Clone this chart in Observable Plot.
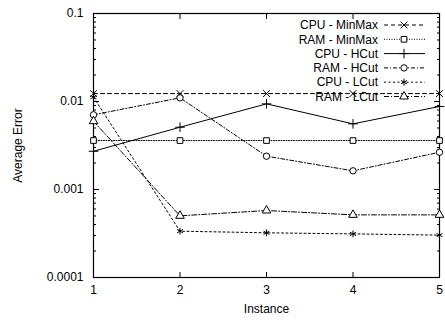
<!DOCTYPE html>
<html><head><meta charset="utf-8">
<script src="https://cdn.jsdelivr.net/npm/d3@7"></script>
<script src="https://cdn.jsdelivr.net/npm/@observablehq/plot@0.6"></script>
<style>body{margin:0;background:#fff} #chart svg{font-family:"Liberation Sans",Arial,sans-serif}</style>
</head><body><div id="chart"></div>
<script>
const instances = [1, 2, 3, 4, 5];
const seriesNames = ["CPU - MinMax", "RAM - MinMax", "CPU - HCut", "RAM - HCut", "CPU - LCut", "RAM - LCut"];
const cpuMinMax = [0.0123, 0.0123, 0.0123, 0.0123, 0.0123];
const ramMinMax = [0.0036, 0.0036, 0.0036, 0.0036, 0.0036];
const cpuHCut = [0.00272, 0.0051, 0.0094, 0.00557, 0.00878];
const ramHCut = [0.00706, 0.011, 0.00239, 0.00163, 0.00265];
const cpuLCut = [0.0112, 0.000336, 0.000322, 0.000313, 0.000303];
const ramLCut = [0.00597, 0.000502, 0.000577, 0.000515, 0.000515];
const yTicks = [0.1, 0.01, 0.001, 0.0001];
const xTicks = [1, 2, 3, 4, 5];

const seriesValues = [cpuMinMax, ramMinMax, cpuHCut, ramHCut, cpuLCut, ramLCut];
const styles = [
  {dash: "4,3", symbol: "times"},
  {dash: "1,1.5", symbol: "square"},
  {dash: null, symbol: "plus"},
  {dash: "4,2,1,2", symbol: "circle"},
  {dash: "2,2.5", symbol: "asterisk"},
  {dash: "5,2,1,2", symbol: "triangle"}
];

const rows = [];
seriesNames.forEach((s, i) => instances.forEach((x, j) => rows.push({series: s, idx: i, x, y: seriesValues[i][j]})));

const minorTicks = [];
for (const d of [0.0001, 0.001, 0.01]) for (let m = 2; m <= 9; m++) minorTicks.push(+(d * m).toPrecision(3));

const marks = [
  Plot.frame({stroke: "black", strokeWidth: 1.2}),
  Plot.axisY({ticks: yTicks, tickFormat: d => String(d), tickSize: 0, tickPadding: 10, fontSize: 12, label: "Average Error", labelAnchor: "center", labelArrow: "none", labelOffset: 80}),
  Plot.axisY({anchor: "left", ticks: yTicks, tickSize: -6, tickFormat: () => "", label: null}),
  Plot.axisY({anchor: "right", ticks: yTicks, tickSize: -6, tickFormat: () => "", label: null}),
  Plot.axisY({anchor: "left", ticks: minorTicks, tickSize: -3, tickFormat: () => "", label: null}),
  Plot.axisY({anchor: "right", ticks: minorTicks, tickSize: -3, tickFormat: () => "", label: null}),
  Plot.axisX({ticks: xTicks, tickFormat: d => String(d), tickSize: 0, tickPadding: 8, fontSize: 12, label: "Instance", labelAnchor: "center", labelArrow: "none", labelOffset: 35}),
  Plot.axisX({anchor: "bottom", ticks: [2, 3, 4], tickSize: -5, tickFormat: () => "", label: null}),
  Plot.axisX({anchor: "top", ticks: [2, 3, 4], tickSize: -5, tickFormat: () => "", label: null})
];
seriesNames.forEach((s, i) => {
  const data = rows.filter(r => r.idx === i);
  marks.push(Plot.line(data, {x: "x", y: "y", stroke: "black", strokeWidth: 1, strokeDasharray: styles[i].dash}));
  marks.push(Plot.dot(data, {x: "x", y: "y", symbol: () => styles[i].symbol, stroke: "black", fill: styles[i].symbol === "plus" || styles[i].symbol === "times" || styles[i].symbol === "asterisk" ? "none" : "white", r: 3.2, strokeWidth: 1}));
});

const svg = Plot.plot({
  width: 445, height: 322,
  marginLeft: 93, marginRight: 6, marginTop: 13, marginBottom: 45,
  style: {fontSize: "12px", fontFamily: "Liberation Sans, Arial, sans-serif", color: "black", background: "white"},
  x: {domain: [1, 5]},
  y: {type: "log", domain: [0.0001, 0.1]},
  symbol: {type: "identity"},
  marks
});
document.getElementById("chart").appendChild(svg);

// legend
const g = d3.select(svg).append("g").attr("font-size", 12).attr("font-family", "Liberation Sans, Arial, sans-serif");
const symMap = {times: d3.symbolTimes, square: d3.symbolSquare, plus: d3.symbolPlus, circle: d3.symbolCircle, asterisk: d3.symbolAsterisk, triangle: d3.symbolTriangle};
seriesNames.forEach((s, i) => {
  const yc = 25 + i * 14.3;
  g.append("text").attr("x", 378).attr("y", yc).attr("dy", "0.35em").attr("text-anchor", "end").attr("fill", "black").text(s);
  g.append("line").attr("x1", 384).attr("x2", 425).attr("y1", yc).attr("y2", yc).attr("stroke", "black").attr("stroke-width", 1).attr("stroke-dasharray", styles[i].dash);
  const sym = styles[i].symbol;
  g.append("path").attr("transform", `translate(404,${yc})`).attr("d", d3.symbol(symMap[sym], 3.2 * 3.2 * Math.PI)()).attr("stroke", "black").attr("fill", sym === "plus" || sym === "times" || sym === "asterisk" ? "none" : "white");
});
</script></body></html>
